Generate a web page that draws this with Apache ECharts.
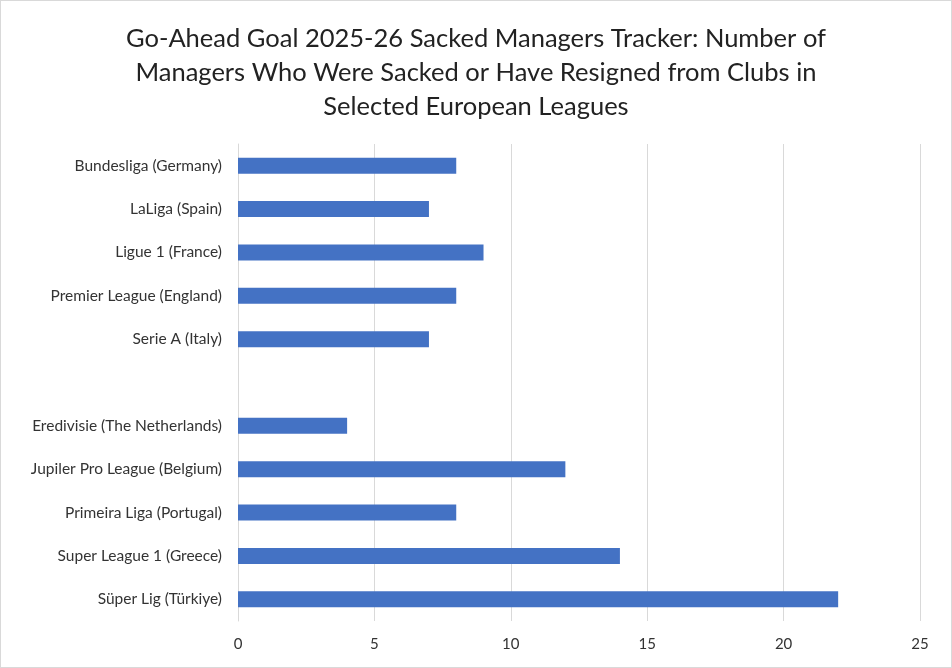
<!DOCTYPE html>
<html><head><meta charset="utf-8">
<script src="https://cdn.jsdelivr.net/npm/echarts@6/dist/echarts.min.js"></script>
<style>html,body{margin:0;padding:0;background:#fff}#c{width:952px;height:668px;box-sizing:border-box;border:1px solid #d9d9d9}</style>
</head><body><div id="c"></div>
<script>
const categories = ["Bundesliga (Germany)","LaLiga (Spain)","Ligue 1 (France)","Premier League (England)","Serie A (Italy)","","Eredivisie (The Netherlands)","Jupiler Pro League (Belgium)","Primeira Liga (Portugal)","Super League 1 (Greece)","Süper Lig (Türkiye)"];
const values = [8,7,9,8,7,null,4,12,8,14,22];
const chart = echarts.init(document.getElementById('c'));
chart.setOption({
  animation:false,
  title:{text:"Go-Ahead Goal 2025-26 Sacked Managers Tracker: Number of\nManagers Who Were Sacked or Have Resigned from Clubs in\nSelected European Leagues",left:'center',top:16,textStyle:{fontFamily:'Lato',fontSize:25.5,fontWeight:'normal',color:'#222',lineHeight:34}},
  grid:{left:237,right:31,top:143,bottom:46},
  xAxis:{type:'value',min:0,max:25,interval:5,axisLine:{show:false},axisTick:{show:false},
    axisLabel:{fontFamily:'Lato',fontSize:15,color:'#333',margin:16},
    splitLine:{lineStyle:{color:'#d9d9d9'}}},
  yAxis:{type:'category',data:categories,inverse:true,axisLine:{show:true,lineStyle:{color:'#d9d9d9'}},axisTick:{show:false},
    axisLabel:{fontFamily:'Lato',fontSize:15.5,color:'#333',margin:16}},
  series:[{type:'bar',data:values,barWidth:16,itemStyle:{color:'#4472c4'}}]
});
</script></body></html>
